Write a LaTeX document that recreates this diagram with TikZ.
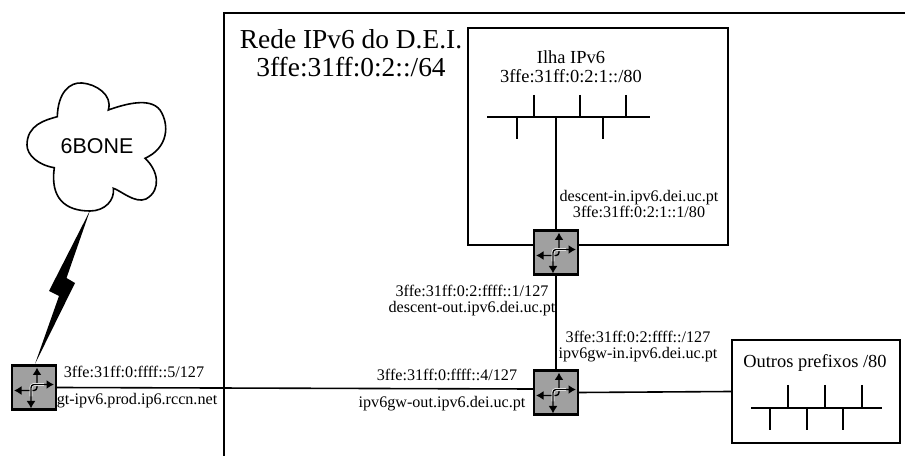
\documentclass[tikz,border=0pt]{standalone}
\usepackage{fontspec}
\setmainfont{Liberation Serif}
\newfontfamily\cloudfont{Liberation Sans}
\usetikzlibrary{arrows.meta,positioning,calc}
\definecolor{routergray}{RGB}{160,160,160}

\begin{document}
\begin{tikzpicture}[
    x=1bp,y=-1bp,
    line width=1.6bp,
    router/.style={draw,line width=2.2bp,fill=routergray,minimum width=44bp,minimum height=44bp,inner sep=0pt},
    zone/.style={draw,line width=1.8bp,inner sep=0pt},
    lab/.style={font=\fontsize{16.2}{16}\selectfont,align=center,inner sep=0pt},
    biglab/.style={font=\fontsize{18.5}{19}\selectfont,align=center,inner sep=0pt},
    arrow/.style={{Latex[length=7.5bp,width=9bp]}-{Latex[length=7.5bp,width=9bp]},line width=1.4bp,rounded corners=3bp}
]
\useasboundingbox (0,0) rectangle (905,456);
% network border, open on two sides
\draw[line width=1.8bp] (224,456) -- (224,13) -- (905,13);
\node[font=\fontsize{27.5}{28}\selectfont,align=center,inner sep=0pt] (dei) at (351,53) {Rede IPv6 do D.E.I.\\3ffe:31ff:0:2::/64};

\node[zone,minimum width=260bp,minimum height=217bp] (ilha) at (598,136.5) {};
\node[zone,minimum width=168bp,minimum height=103bp] (outros) at (816,391.5) {};

\node[router] (descent) at (556,252.5) {};
\node[router] (gw) at (556,392.5) {};
\node[router] (gt) at (34,387.5) {};

% bus bars
\coordinate (ilhabus) at (556,117);
\draw (487,117) -- (650,117);
\foreach \x in {534,580,626} \draw (\x,95) -- (\x,117);
\foreach \x in {517,603} \draw (\x,117) -- (\x,139);
\draw (751,408) -- (882,408);
\foreach \x in {788,825,862} \draw (\x,385) -- (\x,408);
\foreach \x in {770,807,843} \draw (\x,408) -- (\x,430);

% links
\coordinate (gwport) at (533,389);
\draw (ilhabus) -- (descent.north);
\draw (descent.south) -- (gw.north);
\draw (gt.east) -- (gwport);
\draw (gw.east) -- (outros.west);

% cloud
\node[font=\cloudfont\fontsize{21.5}{24}\selectfont,inner sep=0pt] (bone) at (97,146.5) {6BONE};
\draw (57.3,116.7) .. controls (58,92) and (70,82) .. (82,83)
    .. controls (96,84) and (113,95) .. (108.3,110)
    .. controls (125,104) and (150,97) .. (160,110)
    .. controls (170,125) and (168,148) .. (145,158.3)
    .. controls (158,170) and (162,190) .. (146,199)
    .. controls (135,204) and (120,190) .. (113.3,188.3)
    .. controls (115,200) and (105,211) .. (90,211)
    .. controls (65,211) and (50,198) .. (54.3,167.7)
    .. controls (38,165) and (27,155) .. (27,145)
    .. controls (27,125) and (45,120) .. (57.3,116.7) -- cycle;
% lightning
\fill (90,210.5) -- (66.5,278) -- (75,283) -- (35,364) -- (59,296) -- (49,291) -- cycle;

% router symbols
\foreach \r in {descent,gw,gt} {
    \begin{scope}[shift={(\r)}]
    \draw[arrow] (3,-20) -- (3,3) -- (-20,3);
    \draw[white,line width=2.8bp,rounded corners=3bp] (-3,9) -- (-3,-3) -- (10,-3);
    \draw[arrow] (-3,21) -- (-3,-3) -- (20,-3);
    \end{scope}
}

% labels
\node[biglab] (ilhalab) at (571,67) {Ilha IPv6\\3ffe:31ff:0:2:1::/80};
\node[lab] (descentin) at (639,204) {descent-in.ipv6.dei.uc.pt\\3ffe:31ff:0:2:1::1/80};
\node[lab] (descentout) at (472,301) {3ffe:31ff:0:2:ffff::1/127\\descent-out.ipv6.dei.uc.pt};
\node[lab] (gwin) at (638,347) {3ffe:31ff:0:2:ffff::/127\\ipv6gw-in.ipv6.dei.uc.pt};
\node[lab,anchor=base] (gwaddr) at (447,381) {3ffe:31ff:0:ffff::4/127};
\node[lab,anchor=base] (gwout) at (442,407) {ipv6gw-out.ipv6.dei.uc.pt};
\node[lab,anchor=base] (gtaddr) at (134,378) {3ffe:31ff:0:ffff::5/127};
\node[lab,anchor=base] (gtname) at (137,404) {gt-ipv6.prod.ip6.rccn.net};
\node[font=\fontsize{18.5}{19}\selectfont,anchor=base,inner sep=0pt] (outroslab) at (815,368) {Outros prefixos /80};
\end{tikzpicture}
\end{document}
